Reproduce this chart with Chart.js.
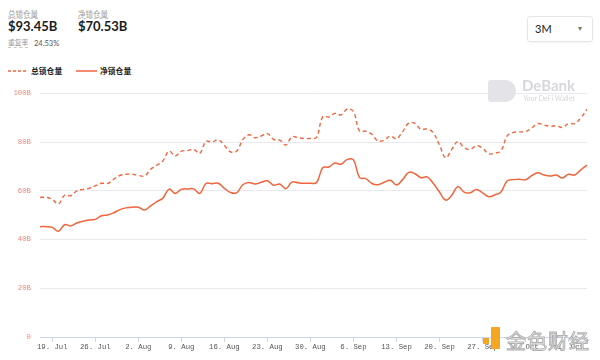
<!DOCTYPE html>
<html>
<head>
<meta charset="utf-8">
<script src="https://cdn.jsdelivr.net/npm/chart.js@4.4.0/dist/chart.umd.min.js"></script>
<style>
  html, body { margin:0; padding:0; background:#fff; width:600px; height:360px; overflow:hidden; font-family: Lato, "Noto Sans CJK SC", sans-serif; }
  .abs { position:absolute; white-space:nowrap; }
  .lbl { font-size:7.5px; color:#9a9a9a; font-family:"Noto Sans CJK SC", sans-serif; border-bottom:1px dashed #c8c8c8; line-height:9px; }
  .big { font-size:13px; font-weight:700; color:#1b1b1b; font-family: Lato, sans-serif; }
  .legtxt { font-size:7.8px; font-weight:700; color:#222; font-family:"Noto Sans CJK SC", sans-serif; }
  #box { left:527px; top:16px; width:64px; height:24px; border:1px solid #e6e6e6; border-radius:3px; box-shadow:0 1px 2px rgba(0,0,0,0.05); }
  #wrap { position:absolute; left:0; top:80px; width:600px; height:280px; }
</style>
</head>
<body>
<div class="abs lbl" style="left:8px;top:9px;">总锁仓量</div>
<div class="abs big" style="left:8px;top:18px;">$93.45B</div>
<div class="abs lbl" style="left:78px;top:9px;">净锁仓量</div>
<div class="abs big" style="left:78px;top:18px;">$70.53B</div>
<div class="abs lbl" style="left:8px;top:38px;font-size:6.8px;">重复率</div>
<div class="abs" style="left:34px;top:39px;font-size:7.5px;color:#555;font-family:Lato,sans-serif;">24.53%</div>

<div class="abs" id="box"></div>
<div class="abs" style="left:535px;top:22px;font-size:11px;color:#222;font-family:Lato,sans-serif;">3M</div>
<div class="abs" style="left:578px;top:23px;font-size:8px;color:#777;">▾</div>

<svg class="abs" style="left:8px;top:66px;" width="20" height="10"><line x1="0" y1="5" x2="19" y2="5" stroke="#f0653c" stroke-width="1.5" stroke-dasharray="3,2"/></svg>
<div class="abs legtxt" style="left:31px;top:65px;">总锁仓量</div>
<svg class="abs" style="left:76px;top:66px;" width="21" height="10"><line x1="0" y1="5" x2="21" y2="5" stroke="#f0653c" stroke-width="1.5"/></svg>
<div class="abs legtxt" style="left:100px;top:65px;">净锁仓量</div>

<div id="wrap"><canvas id="c"></canvas></div>

<div class="abs" style="left:488px;top:80px;width:28px;height:22px;background:#e4e4e8;border-radius:3px 11px 11px 3px;"></div>
<div class="abs" style="left:522px;top:76px;font-size:15px;font-weight:700;color:#d6d6dc;font-family:Lato,sans-serif;">DeBank</div>
<div class="abs" style="left:523px;top:94px;font-size:7px;color:#d6d6dc;font-family:Lato,sans-serif;">Your DeFi Wallet</div>

<div class="abs" style="left:483px;top:327px;width:17px;height:22px;">
  <div class="abs" style="left:0;top:11px;width:6px;height:6px;background:#f5a623;"></div>
  <div class="abs" style="left:8px;top:0;width:9px;height:22px;background:#f5a623;border-radius:1px;"></div>
</div>
<div class="abs" style="left:506px;top:326px;font-size:20px;color:#fff;-webkit-text-stroke:1px #b0b0b0;font-family:'Noto Sans CJK SC',sans-serif;letter-spacing:1px;">金色财经</div>

<script>
// Day offsets relative to 19 Jul; first sample is START_DAY
const START_DAY = -2;
const TICK_DAYS = [0, 7, 14, 21, 28, 35, 42, 49, 56, 63, 70, 77, 84];
const TICK_LABELS = ['19. Jul','26. Jul','2. Aug','9. Aug','16. Aug','23. Aug','30. Aug','6. Sep','13. Sep','20. Sep','27. Sep','4. Oct','11. Oct'];
const Y_TICKS = [0, 20, 40, 60, 80, 100];

// 总锁仓量 (gross TVL, billions USD)
const grossTVL = [
  57.3, 57.3, 56.5, 54.6, 58.2, 58.0, 60.0, 60.6, 61.0, 62.0,
  63.1, 63.0, 64.8, 66.3, 66.8, 66.8, 66.3, 66.1, 68.8, 70.5,
  72.3, 76.3, 74.3, 76.3, 76.5, 77.0, 75.4, 80.3, 80.0, 81.0,
  78.6, 76.0, 76.3, 81.0, 83.0, 81.8, 82.5, 83.5, 81.1, 80.8,
  78.8, 82.2, 81.8, 81.5, 81.5, 82.0, 90.4, 90.3, 91.8, 91.2,
  93.6, 92.5, 84.5, 84.5, 83.2, 80.4, 80.8, 82.5, 81.4, 84.3,
  87.8, 87.7, 85.2, 85.4, 83.8, 78.8, 73.6, 77.0, 80.2, 77.8,
  77.0, 78.5, 77.5, 75.2, 75.5, 76.4, 82.5, 84.0, 84.2, 84.3,
  85.8, 87.6, 87.0, 86.5, 86.7, 86.0, 87.6, 87.6, 90.0, 93.45
];
// 净锁仓量 (net TVL, billions USD)
const netTVL = [
  45.3, 45.3, 45.0, 43.4, 46.1, 45.6, 46.8, 47.5, 48.0, 48.3,
  49.8, 50.1, 51.0, 52.3, 53.0, 53.3, 53.3, 52.1, 53.8, 55.6,
  57.0, 60.7, 58.9, 60.6, 60.8, 60.8, 58.9, 63.0, 62.9, 63.1,
  61.0, 59.3, 59.2, 62.5, 63.4, 62.8, 63.5, 64.1, 62.3, 62.8,
  60.9, 63.6, 63.3, 63.1, 63.1, 63.4, 69.5, 69.8, 71.4, 70.9,
  72.9, 72.7, 65.4, 65.0, 63.0, 62.5, 63.5, 64.3, 62.4, 64.6,
  67.6, 67.0, 65.4, 65.7, 63.0, 59.5, 56.2, 58.2, 61.8, 59.5,
  59.2, 60.5, 59.2, 57.6, 58.3, 59.5, 64.0, 64.6, 64.8, 64.5,
  66.2, 67.4, 66.5, 66.1, 66.5, 65.3, 66.8, 66.5, 68.6, 70.53
];

const COLOR = '#f0653c';
const toPts = arr => arr.map((v, i) => ({ x: START_DAY + i, y: v }));

new Chart(document.getElementById('c'), {
  type: 'line',
  data: {
    datasets: [
      { label: '总锁仓量', data: toPts(grossTVL), borderColor: COLOR, borderWidth: 1.4, borderDash: [4, 3], pointRadius: 0, tension: 0.4, fill: false },
      { label: '净锁仓量', data: toPts(netTVL), borderColor: COLOR, borderWidth: 1.5, pointRadius: 0, tension: 0.4, fill: false }
    ]
  },
  options: {
    responsive: true,
    maintainAspectRatio: false,
    animation: false,
    layout: { padding: { top: 12, right: 13, left: 0, bottom: 0 } },
    plugins: { legend: { display: false }, tooltip: { enabled: false } },
    scales: {
      x: {
        type: 'linear',
        min: START_DAY,
        max: START_DAY + grossTVL.length - 1,
        afterBuildTicks: axis => { axis.ticks = TICK_DAYS.map(v => ({ value: v })); },
        afterFit: axis => { axis.height = 23; },
        grid: { drawOnChartArea: false, drawTicks: true, tickLength: 5, color: '#ccd6eb' },
        border: { display: true, color: '#ccd6eb' },
        ticks: {
          autoSkip: false, maxRotation: 0, padding: 1,
          color: '#555', font: { family: '"Liberation Mono", monospace', size: 7.3 },
          callback: (v) => { const k = TICK_DAYS.indexOf(v); return k >= 0 ? TICK_LABELS[k] : ''; }
        }
      },
      y: {
        min: 0, max: 100,
        afterBuildTicks: axis => { axis.ticks = Y_TICKS.map(v => ({ value: v })); },
        afterFit: axis => { axis.width = 40; },
        grid: { color: '#e8e8ee', drawTicks: false },
        border: { display: false },
        ticks: {
          padding: 9, color: '#f2877a', font: { family: '"Liberation Mono", monospace', size: 7.3 },
          callback: v => v === 0 ? '0' : v + 'B'
        }
      }
    }
  }
});
</script>
</body>
</html>
